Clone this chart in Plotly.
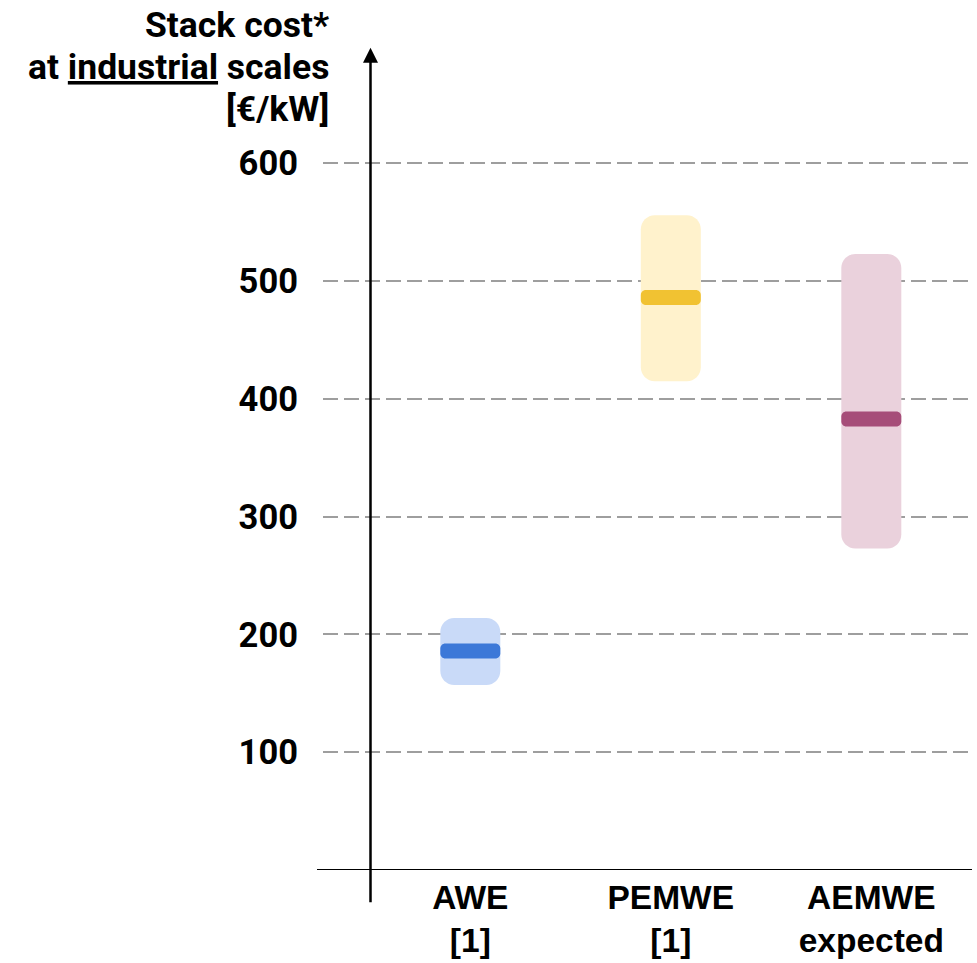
import plotly.graph_objects as go

# Electrolyser stack cost ranges (EUR/kW) at industrial scale
categories = ["AWE", "PEMWE", "AEMWE"]
tick_labels = ["AWE<br>[1]", "PEMWE<br>[1]", "AEMWE<br>expected"]
cost_low = [157, 415, 273]
cost_high = [214, 556, 523]
cost_typical = [186, 486, 383]

range_colors = ["#c9daf8", "#fff2cc", "#ead1dc"]
typical_colors = ["#3c78d8", "#f1c232", "#a64d79"]

y_ticks = [100, 200, 300, 400, 500, 600]
title_lines = ["Stack cost*", "at <u>industrial</u> scales", "[€/kW]"]

# Figure geometry (pixels)
W, H = 977, 963
M_L, M_R, M_T, M_B = 323, 5, 22, 93
PLOT_W = W - M_L - M_R
PLOT_H = H - M_T - M_B
Y_RANGE = [0, 720]
X_RANGE = [-0.7347, -0.7347 + PLOT_W / 200.5]
PX_PER_X = PLOT_W / (X_RANGE[1] - X_RANGE[0])
PX_PER_Y = PLOT_H / (Y_RANGE[1] - Y_RANGE[0])

BOX_HALF_W = 30      # px
BOX_RADIUS = 14      # px
BAND_HALF_H = 7.5    # px
BAND_RADIUS = 5      # px


def rounded_rect(xc, y_lo, y_hi, half_w_px, r_px):
    """SVG path (data coordinates) for a rounded rectangle."""
    dx = half_w_px / PX_PER_X
    rx = r_px / PX_PER_X
    ry = r_px / PX_PER_Y
    k = 0.5523
    x0, x1 = xc - dx, xc + dx
    return (
        f"M{x0 + rx},{y_hi} L{x1 - rx},{y_hi} "
        f"C{x1 - rx + k * rx},{y_hi} {x1},{y_hi - ry + k * ry} {x1},{y_hi - ry} "
        f"L{x1},{y_lo + ry} "
        f"C{x1},{y_lo + ry - k * ry} {x1 - rx + k * rx},{y_lo} {x1 - rx},{y_lo} "
        f"L{x0 + rx},{y_lo} "
        f"C{x0 + rx - k * rx},{y_lo} {x0},{y_lo + ry - k * ry} {x0},{y_lo + ry} "
        f"L{x0},{y_hi - ry} "
        f"C{x0},{y_hi - ry + k * ry} {x0 + rx - k * rx},{y_hi} {x0 + rx},{y_hi} Z"
    )


def paper_y(px):
    """Convert a pixel row (from top) to paper y."""
    return (M_T + PLOT_H - px) / PLOT_H


x_pos = list(range(len(categories)))

fig = go.Figure()
# invisible trace carrying the typical values so the axes are set up
fig.add_trace(go.Scatter(
    x=x_pos, y=cost_typical, mode="markers",
    marker=dict(size=1, color="rgba(0,0,0,0)"),
    hoverinfo="skip", showlegend=False,
))

shapes = []
for i in x_pos:
    shapes.append(dict(
        type="path", xref="x", yref="y",
        path=rounded_rect(i, cost_low[i], cost_high[i], BOX_HALF_W, BOX_RADIUS),
        fillcolor=range_colors[i], line=dict(width=0),
    ))
    band = BAND_HALF_H / PX_PER_Y
    shapes.append(dict(
        type="path", xref="x", yref="y",
        path=rounded_rect(i, cost_typical[i] - band, cost_typical[i] + band,
                          BOX_HALF_W, BAND_RADIUS),
        fillcolor=typical_colors[i], line=dict(width=0),
    ))

# baseline along the category axis
shapes.append(dict(
    type="line", xref="paper", yref="y",
    x0=-6 / PLOT_W, x1=1.0, y0=0, y1=0,
    line=dict(color="black", width=2),
))

axis_x = X_RANGE[0] + (370.5 - M_L) / PX_PER_X
tip_y = (M_T + PLOT_H - 47.7) / PX_PER_Y

annotations = [
    # vertical value axis with arrowhead
    dict(
        x=axis_x, y=tip_y, xref="x", yref="y",
        ax=0, ay=856, axref="pixel", ayref="pixel",
        text="", showarrow=True, arrowhead=2, arrowsize=1.2,
        arrowwidth=2.5, arrowcolor="black", standoff=0,
    ),
]

# axis title, one annotation per line, right-aligned left of the axis
for line_text, center_px in zip(title_lines, [25, 66.5, 109]):
    annotations.append(dict(
        x=(331 - M_L) / PLOT_W, y=paper_y(center_px),
        xref="paper", yref="paper", xanchor="right", yanchor="middle",
        align="right", showarrow=False, text=line_text,
        font=dict(family="Roboto", size=35.5, color="black", weight="bold"),
    ))

fig.update_layout(
    width=W, height=H,
    margin=dict(l=M_L, r=M_R, t=M_T, b=M_B),
    paper_bgcolor="white", plot_bgcolor="white",
    shapes=shapes, annotations=annotations,
    showlegend=False,
    xaxis=dict(
        range=X_RANGE, tickvals=x_pos, ticktext=tick_labels,
        showgrid=False, zeroline=False, showline=False, ticks="",
        ticklabelstandoff=4, automargin=False,
        tickfont=dict(family="Liberation Sans", size=33.5, color="black",
                      weight="bold"),
        fixedrange=True,
    ),
    yaxis=dict(
        range=Y_RANGE, tickvals=y_ticks,
        showgrid=True, gridcolor="#9e9e9e", gridwidth=2, griddash="15px,6px",
        zeroline=False, showline=False, ticks="",
        ticklabelstandoff=24, automargin=False,
        tickfont=dict(family="Roboto", size=34.5, color="black", weight="bold"),
        fixedrange=True,
    ),
)

fig.write_html("out.html")
